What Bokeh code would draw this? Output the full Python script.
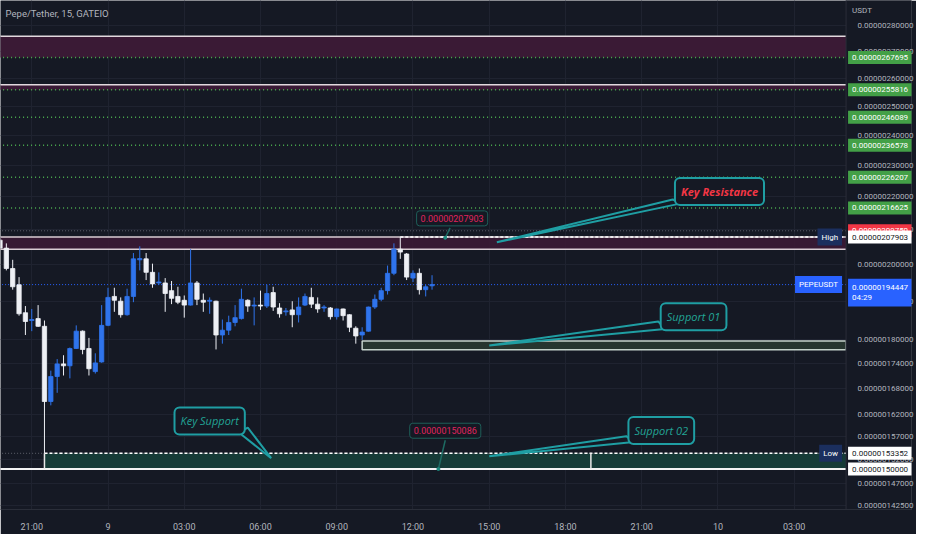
import numpy as np
from bokeh.plotting import figure
from bokeh.models import Range1d, FixedTicker, PrintfTickFormatter, Label
from bokeh.embed import file_html
from bokeh.resources import INLINE

UNIT = 1e-8  # all prices below are in units of 0.00000001 USDT

# ---------------- data ----------------
title_text = "Pepe/Tether, 15, GATEIO"
first_bar_hour = 19.75        # hours after day-8 00:00
bar_step = 0.25               # 15-minute bars

opens = [207.0, 204.7, 198.9, 194.4, 186.9, 184.86, 185.37, 183.37, 164.95, 170.87,
         173.92, 173.45, 177.73, 182.12, 177.73, 172.04, 174.39, 183.61, 191.24, 189.96,
         186.38, 191.24, 201.36, 201.63, 197.84, 194.90, 194.90, 192.81, 191.24, 190.21,
         188.92, 194.90, 190.21, 189.96, 189.96, 181.14, 182.37, 184.36, 185.37, 190.21,
         188.67, 188.92, 188.67, 192.28, 188.16, 187.14, 187.65, 186.38, 188.92, 190.98,
         189.18, 188.16, 188.16, 185.87, 187.90, 186.38, 182.87, 181.14, 182.12, 188.41,
         190.47, 192.81, 197.57, 204.39, 203.01, 196.24, 197.57, 193.07, 194.12]
highs = [207.5, 206.07, 201.36, 196.51, 188.67, 187.90, 188.92, 184.87, 172.27, 175.10,
         176.05, 177.97, 183.61, 182.30, 180.40, 176.53, 188.92, 193.59, 193.59, 190.98,
         193.33, 203.29, 205.22, 203.29, 200.27, 197.84, 196.24, 195.44, 193.86, 191.50,
         204.39, 195.44, 192.02, 190.98, 190.10, 185.12, 186.13, 188.92, 193.33, 190.47,
         190.98, 192.81, 194.38, 193.86, 189.44, 188.16, 189.96, 190.98, 192.02, 193.59,
         190.98, 188.92, 188.41, 188.00, 188.00, 186.50, 183.37, 183.12, 188.50, 191.76,
         193.59, 199.73, 206.07, 207.903, 203.29, 198.38, 198.92, 194.38, 197.04]
lows = [204.4, 198.38, 193.07, 186.13, 181.14, 182.12, 183.20, 153.352, 164.06, 166.98,
        171.10, 170.41, 177.60, 176.29, 171.10, 171.57, 174.20, 183.40, 187.14, 185.62,
        186.13, 189.70, 198.38, 195.70, 193.59, 194.38, 187.14, 189.18, 189.18, 185.62,
        188.80, 188.92, 187.14, 186.63, 177.49, 178.94, 181.14, 183.37, 185.12, 187.14,
        183.61, 187.65, 188.16, 187.39, 185.62, 186.13, 183.12, 184.36, 188.67, 188.16,
        186.89, 187.14, 185.12, 185.12, 184.87, 181.88, 178.94, 179.91, 182.00, 187.90,
        189.96, 191.76, 197.04, 201.63, 195.70, 195.17, 191.76, 191.24, 193.07]
closes = [204.7, 198.92, 193.86, 186.63, 184.61, 185.12, 183.37, 164.95, 170.87, 173.92,
          173.45, 177.73, 182.12, 177.49, 172.74, 174.16, 183.61, 190.98, 190.21, 186.38,
          191.24, 201.63, 201.70, 197.84, 194.64, 195.17, 192.02, 190.73, 189.70, 188.92,
          194.90, 190.47, 189.70, 190.21, 181.14, 182.37, 184.36, 185.62, 190.47, 188.67,
          188.92, 188.67, 192.02, 188.41, 186.63, 187.39, 186.38, 188.41, 191.24, 189.18,
          187.90, 188.41, 185.87, 187.90, 186.13, 183.12, 180.89, 181.88, 188.41, 190.47,
          192.81, 197.57, 204.39, 203.56, 196.51, 197.57, 193.07, 193.86, 194.447]

last_price = 194.447
range_high = 207.903
range_low = 153.352
red_line_price = 209.750
round_level = 150.000
countdown = "04:29"
green_levels = [267.695, 255.816, 246.089, 236.578, 226.207, 216.625]
upper_zones_bottom = [267.695, 255.816]
upper_zones_top = [275.85, 257.65]
key_res_bottom, key_res_top = 204.4, 207.903
sup01_left_hour, sup01_bottom, sup01_top = 34.0, 177.4, 179.6
key_sup_left_hour, key_sup_bottom, key_sup_top = 21.5, 150.000, 153.352
key_sup_divider_hour = 43.0

y_ticks = [280, 270, 260, 250, 240, 230, 220, 210, 200, 190, 180, 174, 168, 162,
           157, 152, 147, 142.5]
x_ticks = [21, 24, 27, 30, 33, 36, 39, 42, 45, 48, 51]
x_tick_labels = ["21:00", "9", "03:00", "06:00", "09:00", "12:00", "15:00",
                 "18:00", "21:00", "10", "03:00"]

# callouts: text, x (hour), y (price), colour, style
callouts = [
    ("Key Resistance", 48.06, 221.7, "#f23645", "bold italic"),
    ("Support 01", 47.04, 185.86, "#22a596", "italic"),
    ("Support 02", 45.77, 158.37, "#22a596", "italic"),
    ("Key Support", 28.0, 160.5, "#22a596", "italic"),
]
callout_tails = [  # (x base1, x base2, x tip), (y base1, y base2, y tip)
    ([46.22, 46.55, 39.30], [219.2, 218.0, 206.4]),
    ([45.65, 45.92, 39.00], [184.6, 182.7, 178.5]),
    ([44.39, 44.69, 39.00], [157.1, 155.8, 152.7]),
    ([29.15, 29.50, 30.42], [157.9, 159.0, 152.3]),
]
price_notes = [  # value, box x, box y, pointer start (x,y), pointer end (x,y)
    (207.903, 37.54, 213.45, 37.46, 210.6, 37.27, 207.7),
    (150.086, 37.27, 158.3, 37.27, 156.2, 37.00, 150.0),
]

# ---------------- styling ----------------
BG = "#151924"
GRID = "#1f2330"
AXIS_TXT = "#b2b5be"
UP = "#2f74ec"
DOWN = "#eef0f5"
TEAL = "#1f9ea3"
X0, X_EDGE, X1 = 19.77, 53.04, 55.615   # chart area ends at X_EDGE, price scale beyond
Y0, Y1 = 141.69 * UNIT, 290.05 * UNIT
FONT = "Roboto"


def ref_price(px):
    """price at a given reference-pixel height (layout helper for text placement)"""
    return 2.8e-6 * np.exp(-(px - 26) / 737.0)


t = first_bar_hour + bar_step * np.arange(len(opens))
o = np.array(opens) * UNIT
h = np.array(highs) * UNIT
lo = np.array(lows) * UNIT
c = np.array(closes) * UNIT
up = c >= o
col = np.where(up, UP, DOWN)

p = figure(width=916, height=534, output_backend="svg", toolbar_location=None,
           x_range=Range1d(X0, X1), y_range=Range1d(Y0, Y1), y_axis_type="log",
           y_axis_location="right", background_fill_color=BG, border_fill_color=BG,
           min_border_left=0, min_border_top=0, min_border_right=2,
           min_border_bottom=22, outline_line_color=None)

# price scale: real axis whose labels sit over the right strip of the canvas
p.yaxis.ticker = FixedTicker(ticks=[v * UNIT for v in y_ticks], minor_ticks=[])
p.yaxis.formatter = PrintfTickFormatter(format="%.11f")
p.yaxis.major_label_text_color = AXIS_TXT
p.yaxis.major_label_text_font = FONT
p.yaxis.major_label_text_font_size = "8px"
p.yaxis.major_tick_line_color = None
p.yaxis.minor_tick_line_color = None
p.yaxis.axis_line_color = None
p.yaxis.major_label_standoff = -60

p.xaxis.ticker = FixedTicker(ticks=x_ticks, minor_ticks=[])
p.xaxis.major_label_overrides = {k: v for k, v in zip(x_ticks, x_tick_labels)}
p.xaxis.major_label_text_color = AXIS_TXT
p.xaxis.major_label_text_font = FONT
p.xaxis.major_label_text_font_size = "9px"
p.xaxis.major_tick_line_color = None
p.xaxis.minor_tick_line_color = None
p.xaxis.axis_line_color = "#2a2e39"
p.xaxis.major_label_standoff = 6

p.xgrid.grid_line_color = GRID
p.ygrid.grid_line_color = GRID

LEFT, RIGHT = X0 - 1, X_EDGE

# zones
p.quad(left=LEFT, right=RIGHT, bottom=[v * UNIT for v in upper_zones_bottom],
       top=[v * UNIT for v in upper_zones_top], fill_color="#3a1a35", line_color=None)
p.quad(left=LEFT, right=RIGHT, bottom=key_res_bottom * UNIT, top=key_res_top * UNIT,
       fill_color="#3a1a35", fill_alpha=0.9, line_color=None)
p.quad(left=sup01_left_hour, right=RIGHT, bottom=sup01_bottom * UNIT, top=sup01_top * UNIT,
       fill_color="#26352f", line_color="#c3d1ca", line_width=1.5)
p.quad(left=key_sup_left_hour, right=RIGHT, bottom=key_sup_bottom * UNIT,
       top=key_sup_top * UNIT, fill_color="#163b37", line_color=None)

# zone borders
p.segment(x0=LEFT, x1=RIGHT, y0=[v * UNIT for v in upper_zones_top],
          y1=[v * UNIT for v in upper_zones_top], line_color="#e2d9de", line_width=1.5)
p.segment(x0=LEFT, x1=RIGHT, y0=[key_res_top * UNIT, key_res_bottom * UNIT],
          y1=[key_res_top * UNIT, key_res_bottom * UNIT], line_color="#d8ccd3",
          line_width=1.5)

# level lines
gl = [v * UNIT for v in green_levels]
p.segment(x0=LEFT, x1=RIGHT, y0=gl, y1=gl, line_color="#4caf50", line_width=1.5,
          line_dash="1 3")
p.segment(x0=LEFT, x1=RIGHT, y0=red_line_price * UNIT, y1=red_line_price * UNIT,
          line_color="#5d606b", line_width=1, line_dash="1 2")
p.segment(x0=LEFT, x1=RIGHT, y0=range_low * UNIT, y1=range_low * UNIT,
          line_color="#5d606b", line_width=1, line_dash="1 2")
p.segment(x0=LEFT, x1=RIGHT, y0=last_price * UNIT, y1=last_price * UNIT,
          line_color="#2962ff", line_width=1, line_dash="1 2")
p.segment(x0=LEFT, x1=RIGHT, y0=round_level * UNIT, y1=round_level * UNIT,
          line_color="#f2f2f2", line_width=2)
p.segment(x0=t[63], x1=RIGHT, y0=range_high * UNIT, y1=range_high * UNIT,
          line_color="#ffffff", line_width=1.5, line_dash="3 2")
p.segment(x0=key_sup_left_hour, x1=RIGHT, y0=range_low * UNIT, y1=range_low * UNIT,
          line_color="#ffffff", line_width=1.5, line_dash="3 2")
p.segment(x0=[key_sup_left_hour, key_sup_divider_hour],
          x1=[key_sup_left_hour, key_sup_divider_hour],
          y0=key_sup_bottom * UNIT, y1=key_sup_top * UNIT, line_color="#e8e8e8",
          line_width=1.5)

# candles
p.segment(x0=t, x1=t, y0=lo, y1=h, line_color=col, line_width=1)
p.vbar(x=t, width=0.17, bottom=np.minimum(o, c), top=np.maximum(o, c),
       fill_color=col, line_color=col, line_width=0.8)

# callout tails
for xs, ys in callout_tails:
    p.patch(x=xs, y=[v * UNIT for v in ys], fill_color=BG, line_color=TEAL,
            line_width=2)
for val, bx, by, sx0, sy0, sx1, sy1 in price_notes:
    p.segment(x0=sx0, y0=sy0 * UNIT, x1=sx1, y1=sy1 * UNIT, line_color="#1e6b63",
              line_width=1.5)
    p.scatter(x=[sx1], y=[sy1 * UNIT], size=3, color="#1e8a7e")

# price-scale strip background (hides the grid there) and its separator
p.quad(left=X_EDGE, right=X1 + 1, bottom=Y0 * 0.5, top=Y1 * 2, fill_color=BG,
       line_color=None)
p.segment(x0=X_EDGE, x1=X_EDGE, y0=Y0 * 0.5, y1=Y1 * 2, line_color="#2a2e39",
          line_width=1)

# callout boxes
for txt, cx, cy, colr, style in callouts:
    p.add_layout(Label(x=cx, y=cy * UNIT, text=txt, text_align="center",
                       text_baseline="middle", text_color=colr, text_font="Open Sans",
                       text_font_size="11px", text_font_style=style,
                       background_fill_color=BG, border_line_color=TEAL,
                       border_line_width=2, border_radius=5, padding=6))
for val, bx, by, *_ in price_notes:
    p.add_layout(Label(x=bx, y=by * UNIT, text=f"{val * UNIT:.11f}", text_align="center",
                       text_baseline="middle", text_color="#e0245e", text_font=FONT,
                       text_font_size="9px", background_fill_color=BG,
                       border_line_color="#1e5f59", border_line_width=1,
                       border_radius=3, padding=4))

# title
p.add_layout(Label(x=X0 + 0.2, y=ref_price(13), text=title_text, text_align="left",
                   text_baseline="middle", text_color="#b2b5be", text_font=FONT,
                   text_font_size="9.5px"))


# right-scale badges
def badge(price, text, bg, fg, align="left", xoff=2):
    p.add_layout(Label(x=X_EDGE, y=price, x_offset=xoff, text=text, text_align=align,
                       text_baseline="middle", text_color=fg, text_font=FONT,
                       text_font_size="8px", background_fill_color=bg, padding=4))


p.add_layout(Label(x=X_EDGE, y=ref_price(10), x_offset=6, text="USDT", text_align="left",
                   text_baseline="middle", text_color=AXIS_TXT, text_font=FONT,
                   text_font_size="8px"))
for v in green_levels:
    badge(v * UNIT, f"{v * UNIT:.11f}", "#43a047", "#ffffff")
badge(red_line_price * UNIT, f"{red_line_price * UNIT:.11f}", "#f23645", "#ffffff")
badge(range_high * UNIT, f"{range_high * UNIT:.11f}", "#ffffff", "#131722")
badge(range_low * UNIT, f"{range_low * UNIT:.11f}", "#ffffff", "#131722")
badge(round_level * UNIT, f"{round_level * UNIT:.11f}", "#ffffff", "#131722")
badge(ref_price(303), f"{last_price * UNIT:.11f}\n{countdown}", "#2962ff", "#ffffff")
badge(range_high * UNIT, "High", "#1b2f5e", "#ffffff", align="right", xoff=-4)
badge(range_low * UNIT, "Low", "#1b2f5e", "#ffffff", align="right", xoff=-4)
badge(last_price * UNIT, "PEPEUSDT", "#2962ff", "#ffffff", align="right", xoff=-4)

open("out.html", "w").write(file_html(p, INLINE))
